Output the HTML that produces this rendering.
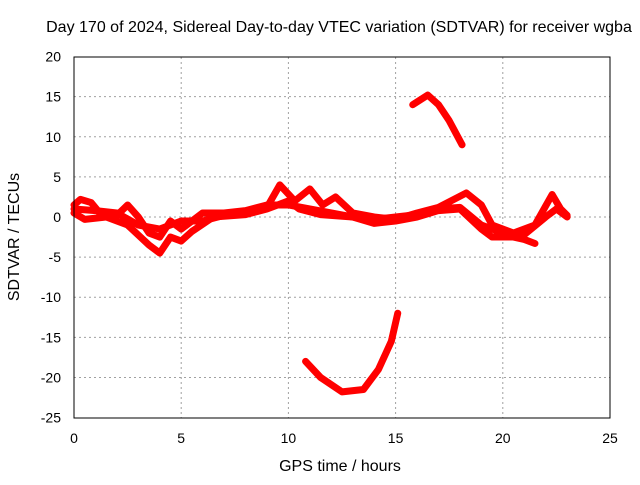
<!DOCTYPE html>
<html><head><meta charset="utf-8"><style>
body{margin:0;background:#fff;width:640px;height:480px;overflow:hidden}
text{font-family:"Liberation Sans",sans-serif;font-size:14px;fill:#000}
.big{font-size:16px}
</style></head><body>
<svg id="chart" width="640" height="480" viewBox="0 0 640 480">
<text class="big" x="339" y="32" text-anchor="middle">Day 170 of 2024, Sidereal Day-to-day VTEC variation (SDTVAR) for receiver wgba</text>
<g id="grid"></g>
<g id="series"></g>
<rect x="74" y="57" width="536" height="361" fill="none" stroke="#000" stroke-width="1"/>
<g id="ticks"></g>
<text class="big" x="340" y="471" text-anchor="middle">GPS time / hours</text>
<text class="big" transform="translate(19,237) rotate(-90)" text-anchor="middle">SDTVAR / TECUs</text>
</svg>
<script>
const xTicks=[0,5,10,15,20,25];
const yTicks=[20,15,10,5,0,-5,-10,-15,-20,-25];
const bandUpper=[[0,1.5],[0.3,2.2],[0.8,1.8],[1.2,0.5],[2,0.2],[2.5,1.5],[3,0],[3.5,-2],[4,-2.5],[4.5,-0.5],[5,-1.5],[5.5,-0.5],[6,0.5],[7,0.5],[8,0.8],[9,1.5],[10,1.5],[11,1],[12,0.5],[13,0],[14,-0.3],[15,0],[16,0.3],[17,1],[18,1.2],[19,-1],[20,-2],[21,-2.2],[22,0],[22.5,1],[23,0]];
const bandLower=[[0,0.5],[0.5,-0.3],[1.5,0],[2.5,-1],[3.5,-3.5],[4,-4.5],[4.5,-2.5],[5,-3],[5.5,-1.8],[6.5,0],[8,0.3],[9,1],[10,2],[10.5,1],[11.5,0.3],[13,0],[14,-0.8],[15,-0.5],[16,0],[17,0.8],[18,1],[19,-1.5],[19.5,-2.5],[20.5,-2.5],[21,-2.8],[21.5,-3.3]];
const bandMid=[[0,1],[1,0.8],[2,0.5],[3,-1],[4,-1.5],[5,-0.5],[6,-0.5],[7,0.2],[8,0.5],[9,1.2],[9.6,4],[10.3,2],[11,3.5],[11.6,1.5],[12.2,2.5],[13,0.5],[14,0],[15,-0.3],[16,0.5],[17,1.2],[18.3,3],[19,1.5],[19.5,-1],[20.5,-2],[21.5,-1],[22.3,2.8],[22.7,1],[23,0.2]];
const arcUpper=[[15.8,14],[16.5,15.2],[17,14],[17.5,12],[18.1,9]];
const arcLower=[[10.8,-18],[11.5,-20],[12.5,-21.8],[13.5,-21.5],[14.2,-19],[14.8,-15.5],[15.1,-12]];
const X=v=>74+v*536/25, Y=v=>217-v*361/45;
const NS="http://www.w3.org/2000/svg";
const grid=document.getElementById('grid'),ticks=document.getElementById('ticks'),ser=document.getElementById('series');
function mk(tag,a,p){const e=document.createElementNS(NS,tag);for(const k in a)e.setAttribute(k,a[k]);p.appendChild(e);return e;}
xTicks.forEach(t=>{
 if(t>0&&t<25){const g=mk('line',{x1:X(t),x2:X(t),y1:57,y2:418,stroke:'#a0a0a0','stroke-dasharray':'2,3'},grid);
 
 }
 const l=mk('text',{x:X(t),y:443,'text-anchor':'middle'},ticks);l.textContent=t;
 
 
});
yTicks.forEach(t=>{
 if(t<20&&t>-25){const g=mk('line',{x1:74,x2:610,y1:Y(t),y2:Y(t),stroke:'#a0a0a0','stroke-dasharray':'2,3'},grid);
 
 }
 const l=mk('text',{x:61,y:Y(t)+5,'text-anchor':'end'},ticks);l.textContent=t;
 
 
});
[['band-upper',bandUpper],['band-lower',bandLower],['band-mid',bandMid],['arc-upper',arcUpper],['arc-lower',arcLower]].forEach(([n,d])=>{
 const p=mk('polyline',{points:d.map(q=>X(q[0])+','+Y(q[1])).join(' '),fill:'none',stroke:'#ff0000','stroke-width':7,'stroke-linejoin':'round','stroke-linecap':'round'},ser);
 
 
});
</script>
</body></html>
